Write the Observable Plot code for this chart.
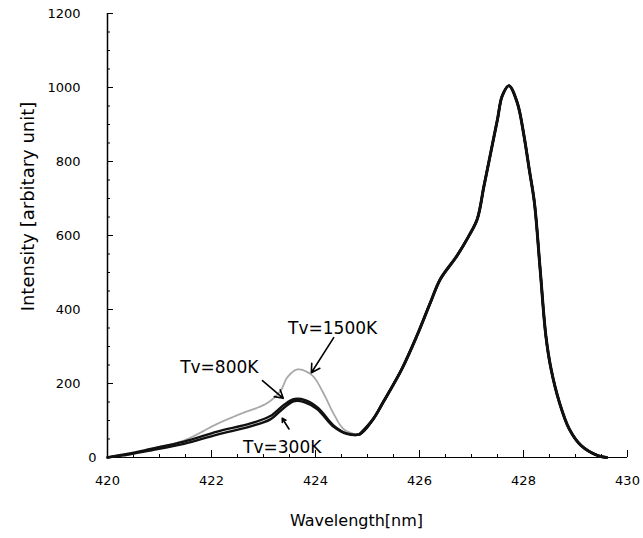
<!DOCTYPE html>
<html><head><meta charset="utf-8">
<script src="https://cdn.jsdelivr.net/npm/d3@7"></script>
<script src="https://cdn.jsdelivr.net/npm/@observablehq/plot@0.6"></script>
<style>body{margin:0;background:#fff} svg{font-family:"DejaVu Sans",sans-serif}</style>
</head><body><div id="chart"></div>
<script>
// Shared main band (all three temperatures coincide)
const tailWl = [424.85, 425.11, 425.30, 425.66, 425.95, 426.21, 426.40, 426.72, 426.95, 427.11, 427.24, 427.37, 427.50, 427.59, 427.72, 427.88, 428.01, 428.11, 428.21, 428.32, 428.43, 428.53, 428.69, 428.88, 429.11, 429.43, 429.60];
const tailI  = [63, 104, 149, 239, 329, 419, 482, 545, 599, 644, 734, 824, 914, 977, 1005, 959, 869, 779, 689, 509, 329, 239, 149, 77, 32, 5, 0];

// Tv=300K left part
const wl300 = [420.0, 420.4, 420.83, 421.47, 422.11, 422.75, 423.13, 423.39, 423.58, 423.78, 424.03, 424.35, 424.6];
const i300  = [0, 8, 19, 37, 62, 84, 103, 134, 152, 150, 131, 83, 64];
// Tv=800K left part
const wl800 = [420.0, 420.4, 420.83, 421.47, 422.11, 422.75, 423.13, 423.39, 423.60, 423.80, 424.05, 424.35, 424.6];
const i800  = [0, 10, 23, 43, 70, 92, 112, 142, 158, 155, 134, 86, 65];
// Tv=1500K left part
const wl1500 = [420.3, 420.83, 421.47, 422.11, 422.56, 423.07, 423.33, 423.46, 423.65, 423.84, 423.97, 424.16, 424.35, 424.54, 424.74];
const i1500  = [3, 23, 46, 91, 118, 147, 181, 217, 238, 231, 217, 172, 118, 77, 64];

const xTicks = [420, 422, 424, 426, 428, 430];
const yTicks = [200, 400, 600, 800, 1000, 1200];
const xMinor = d3.range(420, 430.01, 0.5);
const yMinor = d3.range(0, 1200.1, 50);

const annLabels = ["Tv=1500K", "Tv=800K", "Tv=300K"];
const annTx = [424.33, 422.15, 423.36];
const annTy = [349, 243, 28];
const arrX1 = [424.35, 422.98, 423.49];
const arrY1 = [324, 208, 77];
const arrX2 = [423.92, 423.38, 423.36];
const arrY2 = [229, 160, 106];

function series(wl, vals, name) {
  const pts = wl.map((w, k) => ({wl: w, v: vals[k], s: name}));
  return pts.concat(tailWl.map((w, k) => ({wl: w, v: tailI[k], s: name})));
}
const d1500 = series(wl1500, i1500, "1500K");
const d800 = series(wl800, i800, "800K");
const d300 = series(wl300, i300, "300K");
const tail = tailWl.map((w, k) => ({wl: w, v: tailI[k]}));
const ann = annLabels.map((t, k) => ({t, tx: annTx[k], ty: annTy[k], x1: arrX1[k], y1: arrY1[k], x2: arrX2[k], y2: arrY2[k]}));

const W = 643, H = 538, ML = 107, MR = 16, MT = 13, MB = 81;
const PW = W - ML - MR, PH = H - MT - MB;

const chart = Plot.plot({
  width: W, height: H,
  marginLeft: ML, marginRight: MR, marginTop: MT, marginBottom: MB,
  style: {fontFamily: "DejaVu Sans, sans-serif", background: "#fff", color: "#000"},
  x: {domain: [420, 430]},
  y: {domain: [0, 1200]},
  marks: [
    Plot.axisX({ticks: xTicks, tickSize: 0, tickPadding: 18, fontSize: 13, tickFormat: d => String(d), label: null}),
    Plot.axisY({ticks: yTicks, tickSize: 0, tickPadding: 27, fontSize: 13, tickFormat: d => String(d), label: null}),
    Plot.axisY({ticks: [0], tickSize: 0, tickPadding: 11, fontSize: 13, tickFormat: d => String(d), label: null}),
    Plot.tickY(yMinor, {y: d => d, insetRight: PW - 3, stroke: "#000"}),
    Plot.tickY(yTicks, {y: d => d, insetRight: PW - 6, stroke: "#000"}),
    Plot.tickX(xMinor, {x: d => d, insetTop: PH - 3, stroke: "#000"}),
    Plot.tickX(xTicks, {x: d => d, insetTop: PH - 7, stroke: "#000"}),
    Plot.ruleX([420], {stroke: "#000", strokeWidth: 1.5}),
    Plot.ruleY([0], {stroke: "#000", strokeWidth: 1.2}),
    Plot.line(d1500, {x: "wl", y: "v", curve: "catmull-rom", stroke: "#a8a8a8", strokeWidth: 1.8, strokeDasharray: "1.5,0.8"}),
    Plot.line(d800, {x: "wl", y: "v", curve: "catmull-rom", stroke: "#111", strokeWidth: 2.4}),
    Plot.line(d300, {x: "wl", y: "v", curve: "catmull-rom", stroke: "#111", strokeWidth: 2.4}),
    Plot.line(tail, {x: "wl", y: "v", curve: "catmull-rom", stroke: "#111", strokeWidth: 3}),
    Plot.arrow(ann, {x1: "x1", y1: "y1", x2: "x2", y2: "y2", stroke: "#000", strokeWidth: 1.6, headLength: 9}),
    Plot.text(ann, {x: "tx", y: "ty", text: "t", fontSize: 17, fill: "#000"}),
    Plot.text(["Intensity [arbitary unit]"], {frameAnchor: "left", textAnchor: "middle", rotate: -90, dx: -79, dy: -29, fontSize: 18, fill: "#000"}),
    Plot.text(["Wavelength[nm]"], {frameAnchor: "bottom", textAnchor: "middle", dy: 68, dx: -11, fontSize: 16, fill: "#000"})
  ]
});
document.getElementById("chart").appendChild(chart);
</script>
</body></html>
